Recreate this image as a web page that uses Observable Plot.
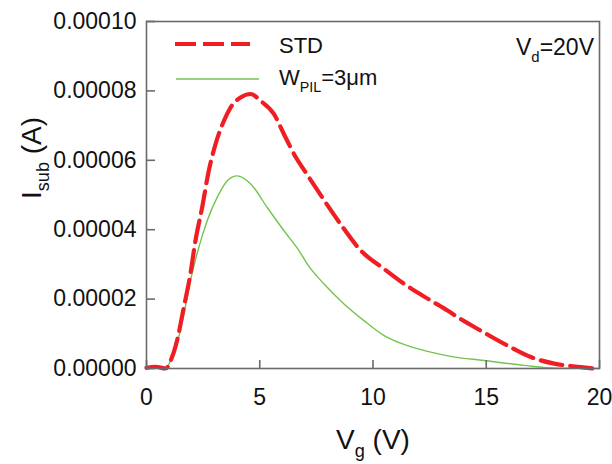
<!DOCTYPE html>
<html>
<head>
<meta charset="utf-8">
<script src="https://cdn.jsdelivr.net/npm/d3@7"></script>
<script src="https://cdn.jsdelivr.net/npm/@observablehq/plot@0.6"></script>
<style>
  html, body { margin: 0; padding: 0; background: #fff; }
  #chart { width: 612px; height: 464px; }
</style>
</head>
<body>
<div id="chart"></div>
<script>
// STD curve: Vg (V) and Isub (A)
const stdV = [0, 0.4, 0.84, 1.13, 1.35, 1.65, 1.94, 2.16, 2.46, 2.75, 3.05, 3.42, 3.71, 4.15, 4.6, 5.04, 5.63, 6.07, 6.6, 7.03, 7.76, 8.57, 9.46, 10.49, 11.37, 12.55, 13.29, 13.73, 14.76, 15.94, 16.97, 18.0, 19.18, 19.7];
const stdI = [0.02e-5, 0.05e-5, 0.0, 0.33e-5, 0.81e-5, 1.77e-5, 2.73e-5, 3.68e-5, 4.65e-5, 5.70e-5, 6.47e-5, 7.14e-5, 7.52e-5, 7.81e-5, 7.91e-5, 7.71e-5, 7.33e-5, 6.75e-5, 6.08e-5, 5.65e-5, 4.93e-5, 4.16e-5, 3.40e-5, 2.87e-5, 2.44e-5, 1.96e-5, 1.67e-5, 1.48e-5, 1.09e-5, 0.66e-5, 0.33e-5, 0.14e-5, 0.04e-5, 0.0];
// W_PIL = 3um curve
const pilV = [0.9, 1.35, 1.65, 1.94, 2.31, 2.68, 3.12, 3.57, 4.0, 4.6, 5.33, 6.07, 6.73, 7.10, 7.83, 8.72, 9.6, 10.49, 11.52, 12.55, 13.43, 14.9, 16.67, 18.1, 20];
const pilI = [0.0, 0.71e-5, 1.57e-5, 2.53e-5, 3.49e-5, 4.26e-5, 4.93e-5, 5.41e-5, 5.55e-5, 5.32e-5, 4.64e-5, 3.97e-5, 3.40e-5, 3.01e-5, 2.44e-5, 1.86e-5, 1.38e-5, 0.95e-5, 0.66e-5, 0.47e-5, 0.35e-5, 0.23e-5, 0.09e-5, 0.01e-5, 0.0];
const xTicks = [0, 5, 10, 15, 20];
const yTicks = [0, 0.00002, 0.00004, 0.00006, 0.00008, 0.0001];
const seriesNames = ["STD", "W_PIL=3μm"];

const std = stdV.map((v, i) => ({v, i: stdI[i]}));
const pil = pilV.map((v, i) => ({v, i: pilI[i]}));

const RED = "#f01e23", GREEN = "#72c450", AX = "#6a6a6a";
const FONT = "'Liberation Sans', Arial, Helvetica, sans-serif";

const plot = Plot.plot({
  width: 612, height: 464,
  marginLeft: 146, marginRight: 13, marginTop: 21, marginBottom: 96,
  style: {fontFamily: FONT, fontSize: "23px", color: "#111", background: "#fff", overflow: "visible"},
  x: {domain: [0, 20]},
  y: {domain: [0, 0.0001]},
  marks: [
    Plot.line(pil, {x: "v", y: "i", stroke: GREEN, strokeWidth: 1.4, curve: "monotone-x"}),
    Plot.line(std, {x: "v", y: "i", stroke: RED, strokeWidth: 4.2, strokeDasharray: "22,8", strokeLinejoin: "round", curve: "monotone-x"}),
    Plot.frame({stroke: AX, strokeWidth: 1.6}),
    Plot.axisX({ticks: xTicks, tickSize: -8, tickPadding: 28, tickFormat: d => String(d), label: null, stroke: AX, strokeWidth: 1.6, fill: "#111"}),
    Plot.axisY({ticks: yTicks, tickSize: -9, tickPadding: 19, tickFormat: d => d.toFixed(5), label: null, stroke: AX, strokeWidth: 1.6, fill: "#111"})
  ]
});
document.getElementById("chart").appendChild(plot);

const svg = d3.select(plot);

function subText(g, x, y, parts, size, anchor, rotate) {
  const t = g.append("text")
    .attr("x", x).attr("y", y)
    .attr("font-family", FONT).attr("font-size", size)
    .attr("fill", "#111").attr("text-anchor", anchor || "start");
  if (rotate) t.attr("transform", `rotate(${rotate},${x},${y})`);
  parts.forEach(p => {
    const s = t.append("tspan").text(p.t);
    if (p.sub) s.attr("font-size", size * 0.65).attr("dy", size * 0.3);
    if (p.up) s.attr("dy", -size * 0.3);
  });
  return t;
}
const g = svg.append("g");
// axis titles
subText(g, 336, 449, [{t: "V"}, {t: "g", sub: true}, {t: " (V)", up: true}], 28, "start");
subText(g, 41, 158, [{t: "I"}, {t: "sub", sub: true}, {t: " (A)", up: true}], 28, "middle", -90);
// legend
g.append("line").attr("x1", 175).attr("x2", 250).attr("y1", 44).attr("y2", 44)
  .attr("stroke", RED).attr("stroke-width", 4.2).attr("stroke-dasharray", "21,7");
g.append("line").attr("x1", 176).attr("x2", 259).attr("y1", 79).attr("y2", 79)
  .attr("stroke", GREEN).attr("stroke-width", 1.4);
subText(g, 279, 53, [{t: seriesNames[0]}], 22, "start");
subText(g, 279, 85, [{t: "W"}, {t: "PIL", sub: true}, {t: "=3μm", up: true}], 22, "start");
subText(g, 594, 55, [{t: "V"}, {t: "d", sub: true}, {t: "=20V", up: true}], 23, "end");
</script>
</body>
</html>
